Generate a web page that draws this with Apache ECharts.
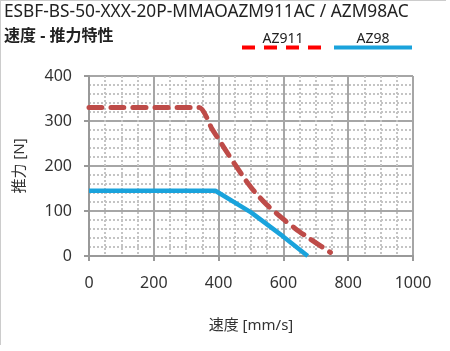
<!DOCTYPE html>
<html>
<head>
<meta charset="utf-8">
<script src="https://cdn.jsdelivr.net/npm/echarts@6/dist/echarts.min.js"></script>
<style>
  html, body { margin: 0; padding: 0; background: #fff; }
  #main { width: 450px; height: 351px; }
</style>
</head>
<body>
<div id="main"></div>
<script>
// speed [mm/s] -> thrust [N]
const az911Speed = [0, 340, 380, 420, 450, 480, 512, 550, 596, 642, 682, 745]
const az911Thrust = [330, 330, 282, 237, 204, 172, 142, 113, 84, 58, 38, 8]
const az98Speed = [0, 390, 500, 600, 675]
const az98Thrust = [145, 145, 97, 43, 0]
const xTicks = [0, 200, 400, 600, 800, 1000]
const yTicks = [0, 100, 200, 300, 400]

const font = "'Noto Sans', 'Noto Sans CJK JP', sans-serif"
const pairs = (xs, ys) => xs.map((x, i) => [x, ys[i]])

const chart = echarts.init(document.getElementById('main'))
chart.setOption({
  animation: false,
  textStyle: { fontFamily: font },
  grid: { left: 89, right: 37, top: 76, bottom: 95 },
  xAxis: {
    type: 'value',
    min: xTicks[0],
    max: xTicks[xTicks.length - 1],
    interval: 200,
    name: '速度 [mm/s]',
    nameLocation: 'middle',
    nameGap: 62,
    nameTextStyle: { fontSize: 15, color: '#333', fontFamily: font },
    axisLine: { lineStyle: { color: '#999', width: 2 } },
    axisTick: { show: true, length: 5, lineStyle: { color: '#999', width: 2 } },
    axisLabel: { fontSize: 16, color: '#333', margin: 19, fontFamily: font, formatter: v => String(v) },
    splitLine: { lineStyle: { color: '#a6a6a6', width: 2 } },
    minorTick: { show: false, splitNumber: 4 },
    minorSplitLine: { show: true, lineStyle: { color: '#c4c4c4', width: 2, type: [2, 2] } }
  },
  yAxis: {
    type: 'value',
    min: yTicks[0],
    max: yTicks[yTicks.length - 1],
    interval: 100,
    name: '推力 [N]',
    nameLocation: 'middle',
    nameGap: 62,
    nameRotate: 90,
    nameTextStyle: { fontSize: 15, color: '#333', fontFamily: font },
    axisLine: { show: true, lineStyle: { color: '#999', width: 2 } },
    axisTick: { show: true, length: 5, lineStyle: { color: '#999', width: 2 } },
    axisLabel: { fontSize: 16, color: '#333', margin: 17, fontFamily: font },
    splitLine: { lineStyle: { color: '#a6a6a6', width: 2 } },
    minorTick: { show: false, splitNumber: 5 },
    minorSplitLine: { show: true, lineStyle: { color: '#c4c4c4', width: 2, type: [2, 2] } }
  },
  series: [{
    name: 'AZ911',
    type: 'line',
    data: pairs(az911Speed, az911Thrust),
    symbol: 'none',
    smooth: 0.2,
    lineStyle: { color: '#be4b48', width: 5, type: [13, 9], cap: 'round', join: 'round' },
    z: 3
  }, {
    name: 'AZ98',
    type: 'line',
    data: pairs(az98Speed, az98Thrust),
    symbol: 'none',
    lineStyle: { color: '#1aa3dc', width: 4.5, cap: 'butt', join: 'round' },
    z: 4
  }],
  graphic: [
    // frame lines
    { type: 'line', shape: { x1: 0.5, y1: 0, x2: 0.5, y2: 345 }, style: { stroke: '#ccc', lineWidth: 1 } },
    { type: 'line', shape: { x1: 0, y1: 0.5, x2: 446, y2: 0.5 }, style: { stroke: '#ccc', lineWidth: 1 } },
    { type: 'text', left: 4, top: 3, style: { text: 'ESBF-BS-50-XXX-20P-MMAOAZM911AC / AZM98AC', font: '17.3px ' + font, fill: '#222' } },
    { type: 'text', left: 4, top: 28, style: { text: '速度 - 推力特性', font: 'bold 16px ' + font, fill: '#222' } },
    // legend
    { type: 'text', x: 283, y: 39, style: { text: 'AZ911', font: '14px ' + font, fill: '#222', align: 'center', verticalAlign: 'middle' } },
    { type: 'line', shape: { x1: 242, y1: 47.5, x2: 322, y2: 47.5 }, style: { stroke: '#ff0000', lineWidth: 4, lineDash: [13, 9] } },
    { type: 'text', x: 373, y: 39, style: { text: 'AZ98', font: '14px ' + font, fill: '#222', align: 'center', verticalAlign: 'middle' } },
    { type: 'line', shape: { x1: 334, y1: 47.5, x2: 412, y2: 47.5 }, style: { stroke: '#1aa3dc', lineWidth: 4 } }
  ]
})
</script>
</body>
</html>
